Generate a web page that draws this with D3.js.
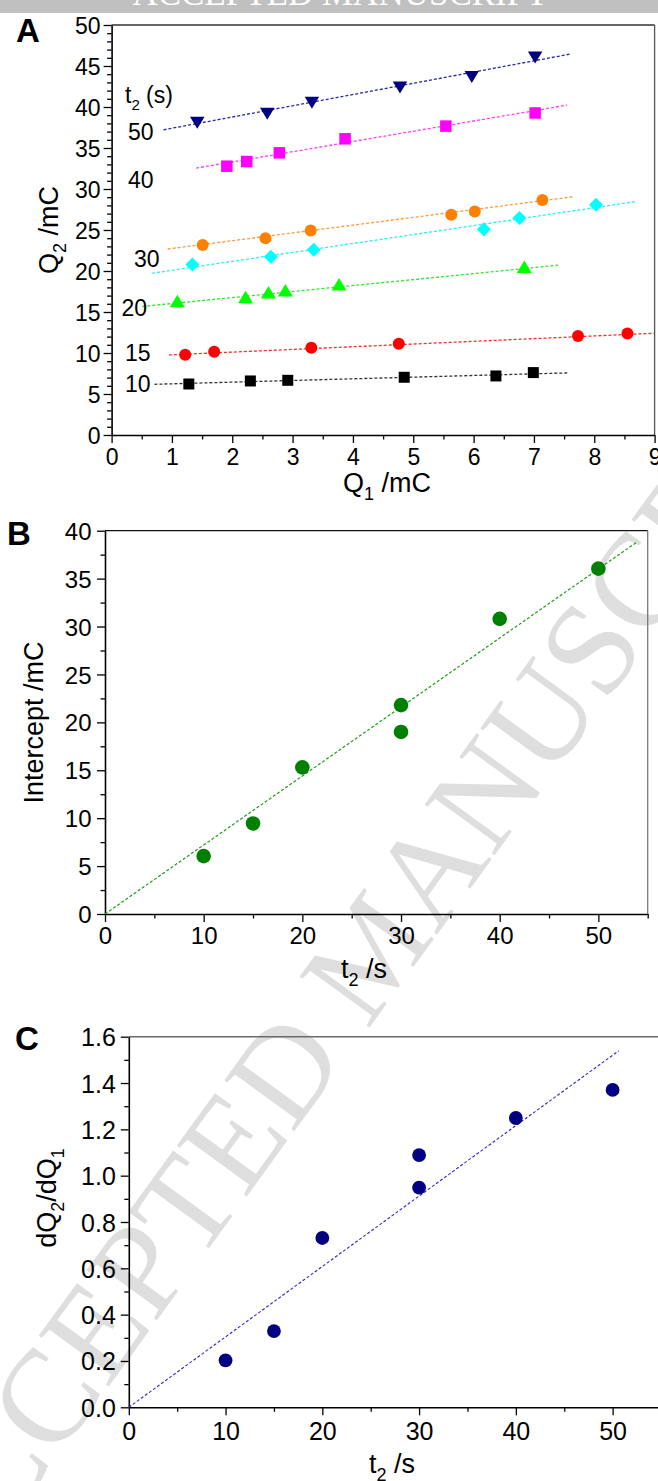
<!DOCTYPE html>
<html>
<head>
<meta charset="utf-8">
<script src="https://cdn.jsdelivr.net/npm/d3@7/dist/d3.min.js"></script>
<style>
html,body{margin:0;padding:0;background:#fff;}
svg{display:block;}
</style>
</head>
<body>
<svg id="chart" width="658" height="1481"></svg>
<script>
// ================= DATA =================
// Panel A: Q2 vs Q1 for each t2 series
const t2Labels = ["10", "15", "20", "30", "30", "40", "50"];
const t2Values = [10, 15, 20, 30, 30, 40, 50];
const q1Values = [
  [1.28, 2.30, 2.92, 4.85, 6.37, 6.99],
  [1.22, 1.70, 3.31, 4.76, 7.73, 8.55],
  [1.09, 2.22, 2.60, 2.88, 3.77, 6.84],
  [1.51, 2.55, 3.30, 5.63, 6.02, 7.14],
  [1.34, 2.64, 3.35, 6.17, 6.76, 8.03],
  [1.91, 2.24, 2.78, 3.87, 5.54, 7.02],
  [1.42, 2.58, 3.32, 4.78, 5.97, 7.02]
];
const q2Values = [
  [6.22, 6.59, 6.67, 7.04, 7.20, 7.61],
  [9.78, 10.14, 10.63, 11.12, 12.06, 12.39],
  [16.35, 16.84, 17.41, 17.65, 18.39, 20.51],
  [23.18, 24.00, 24.94, 26.86, 27.27, 28.65],
  [20.80, 21.73, 22.59, 25.10, 26.45, 28.08],
  [32.78, 33.35, 34.41, 36.12, 37.67, 39.27],
  [38.08, 39.18, 40.53, 42.37, 43.67, 46.04]
];
// Linear fits (intercept /mC, slope dQ2/dQ1) — also plotted in panels B and C
const intercepts = [6.04, 9.45, 15.30, 21.80, 19.00, 30.80, 36.04];
const slopes     = [0.203, 0.329, 0.731, 0.948, 1.089, 1.249, 1.370];
const fitQ1From  = [0.71, 0.95, 0.51, 0.93, 0.67, 1.40, 0.86];
const fitQ1To    = [7.57, 9.00, 7.40, 7.66, 8.69, 7.55, 7.59];
// Panel B / C overall fits
const interceptFit = {slope: 0.72, intercept: 0, from: 0, to: 54};
const slopeFit     = {slope: 0.0304, intercept: 0, from: 0, to: 50.65};
// Annotation texts in panel A
const seriesLabelTexts = ["t2 (s)", "50", "40", "30", "20", "15", "10"];
const seriesLabelQ1    = [0.222, 0.272, 0.272, 0.371, 0.164, 0.222, 0.222];
const seriesLabelQ2    = [40.52, 35.98, 30.16, 20.45, 14.51, 9.02, 5.24];
// Tick values
const ticksAx = [0,1,2,3,4,5,6,7,8,9];
const ticksAy = [0,5,10,15,20,25,30,35,40,45,50];
const ticksBx = [0,10,20,30,40,50];
const ticksBy = [0,5,10,15,20,25,30,35,40];
const ticksCx = [0,10,20,30,40,50];
const ticksCy = [0,0.2,0.4,0.6,0.8,1.0,1.2,1.4,1.6];

// ================= STYLE =================
const markerColors = ["#000000","#ff0000","#00ff00","#ff8000","#00ffff","#ff00ff","#000080"];
const lineColors   = ["#333333","#ff2a2a","#2ee82e","#ff9a3a","#2af0f0","#ff3cff","#2626a6"];
const markerShapes = ["square","circle","triUp","circle","diamond","square","triDown"];
const markerSizes  = [[11,11],[12,12],[15,12.5],[12,12],[14,14],[11.5,11.5],[14.5,12]];
const SANS = "'Liberation Sans', Arial, Helvetica, sans-serif";
const SERIF = "'Liberation Serif', 'Times New Roman', serif";

const svg = d3.select("#chart");

function shapePath(type, w, h) {
  const a = w/2, b = h/2;
  switch (type) {
    case "square": return `M${-a},${-b}H${a}V${b}H${-a}Z`;
    case "circle": return `M${-a},0A${a},${b} 0 1,0 ${a},0A${a},${b} 0 1,0 ${-a},0Z`;
    case "triUp": return `M0,${-b}L${a},${b}L${-a},${b}Z`;
    case "triDown": return `M0,${b}L${a},${-b}L${-a},${-b}Z`;
    case "diamond": return `M0,${-b}L${a},0L0,${b}L${-a},0Z`;
  }
}

// ================= WATERMARK =================
svg.append("text")
  .attr("transform", "translate(372,950) rotate(-54)")
  .attr("text-anchor", "middle")
  .attr("dy", "0.33em")
  .style("font-family", SERIF)
  .style("font-size", "132px")
  .attr("fill", "#dedede")
  .text("ACCEPTED MANUSCRIPT");

// Top banner
svg.append("rect").attr("x",0).attr("y",0).attr("width",658).attr("height",13).attr("fill","#c0c0c0");
svg.append("text").attr("x",340).attr("y",5).attr("text-anchor","middle")
  .style("font-family", SERIF).style("font-size","35px").attr("fill","#fff")
  .text("ACCEPTED MANUSCRIPT");

// ================= AXES HELPER =================
function drawAxes(x, y, o) {
  const y0 = y.range()[0], x0 = x.range()[0];
  const gxm = svg.append("g").attr("transform", `translate(0,${y0})`)
    .call(d3.axisBottom(x).tickValues(o.xMinor).tickSize(4.5).tickSizeOuter(0).tickFormat(""));
  gxm.select(".domain").remove();
  const gym = svg.append("g").attr("transform", `translate(${x0},0)`)
    .call(d3.axisLeft(y).tickValues(o.yMinor).tickSize(4.5).tickSizeOuter(0).tickFormat(""));
  gym.select(".domain").remove();
  const gx = svg.append("g").attr("transform", `translate(0,${y0})`)
    .call(d3.axisBottom(x).tickValues(o.xMajor).tickSize(8).tickSizeOuter(0).tickFormat(o.xFmt));
  const gy = svg.append("g").attr("transform", `translate(${x0},0)`)
    .call(d3.axisLeft(y).tickValues(o.yMajor).tickSize(8).tickSizeOuter(0).tickFormat(o.yFmt));
  [gxm, gym, gx, gy].forEach(g => {
    g.attr("font-family", null).attr("font-size", null);
    g.selectAll(".tick line").attr("stroke", "#000").attr("stroke-width", 1.3);
    g.selectAll(".domain").attr("stroke", "#000").attr("stroke-width", 1.6);
  });
  gx.selectAll(".tick text").attr("y", o.xLabOff).attr("dy", null)
    .style("font-family", SANS).style("font-size", o.tickFont + "px").attr("fill", "#000");
  gy.selectAll(".tick text").attr("x", -o.yLabOff).attr("dy", "0.36em")
    .style("font-family", SANS).style("font-size", o.tickFont + "px").attr("fill", "#000");
}

function frameLine(x1, y1, x2, y2, color, w) {
  svg.append("line").attr("x1",x1).attr("y1",y1).attr("x2",x2).attr("y2",y2)
    .attr("stroke", color).attr("stroke-width", w);
}

function title(tx, ty, rot, parts, size) {
  const t = svg.append("text")
    .attr("transform", `translate(${tx},${ty})` + (rot ? ` rotate(${rot})` : ""))
    .attr("text-anchor", "middle")
    .style("font-family", SANS).style("font-size", size + "px").attr("fill", "#000");
  let down = 0;
  parts.forEach(p => {
    const isSub = p.sub === true;
    const ts = t.append("tspan").text(p.t);
    if (isSub && !down) { ts.attr("dy", 8).style("font-size", Math.round(size*0.66) + "px"); down = 1; }
    else if (!isSub && down) { ts.attr("dy", -8); down = 0; }
    else if (isSub) { ts.style("font-size", Math.round(size*0.66) + "px"); }
  });
  return t;
}

function panelLetter(x, y, s) {
  svg.append("text").attr("x", x).attr("y", y)
    .style("font-family", SANS).style("font-size", "33px").style("font-weight", "bold")
    .attr("fill", "#000").text(s);
}

// ================= PANEL A =================
const xA = d3.scaleLinear().domain([0, 9]).range([111.6, 654.6]);
const yA = d3.scaleLinear().domain([0, 50]).range([435, 25]);
frameLine(111.6, 25, 654.6, 25, "#333", 1.3);
frameLine(654.6, 25, 654.6, 435, "#555", 1.3);

drawAxes(xA, yA, {
  xMajor: ticksAx, xMinor: d3.range(0.5, 9, 1),
  yMajor: ticksAy, yMinor: d3.range(0, 51, 1).filter(v => v % 5 !== 0),
  xFmt: d3.format("d"), yFmt: d3.format("d"),
  xLabOff: 30, yLabOff: 11, tickFont: 23
});

const lineA = d3.line().x(d => xA(d[0])).y(d => yA(d[1]));
t2Values.forEach((t, i) => {
  const pts = [fitQ1From[i], fitQ1To[i]].map(q => [q, intercepts[i] + slopes[i] * q]);
  svg.append("path").attr("d", lineA(pts)).attr("fill", "none")
    .attr("stroke", lineColors[i]).attr("stroke-width", 1.3).attr("stroke-dasharray", "3,2");
});
t2Values.forEach((t, i) => {
  const [w, h] = markerSizes[i];
  svg.append("g").selectAll("path").data(q1Values[i].map((q, j) => [q, q2Values[i][j]]))
    .join("path")
    .attr("transform", d => `translate(${xA(d[0])},${yA(d[1])})`)
    .attr("d", shapePath(markerShapes[i], w, h))
    .attr("fill", markerColors[i]);
});

seriesLabelTexts.forEach((s, i) => {
  const t = svg.append("text").attr("x", xA(seriesLabelQ1[i])).attr("y", yA(seriesLabelQ2[i]))
    .style("font-family", SANS).style("font-size", "23px").attr("fill", "#000");
  if (s.startsWith("t2")) {
    t.append("tspan").text("t");
    t.append("tspan").attr("dy", 7).style("font-size", "15px").text("2");
    t.append("tspan").attr("dy", -7).text(" (s)");
  } else t.text(s);
});

title(387, 492, 0, [{t:"Q"},{t:"1",sub:true},{t:" /mC"}], 27);
title(58, 230, -90, [{t:"Q"},{t:"2",sub:true},{t:" /mC"}], 27);
panelLetter(16, 42, "A");

// ================= PANEL B =================
const xB = d3.scaleLinear().domain([0, 55]).range([105, 647.7]);
const yB = d3.scaleLinear().domain([0, 40]).range([914, 530.7]);
frameLine(105, 530.7, 647.7, 530.7, "#111", 1.3);
frameLine(647.7, 530.7, 647.7, 914, "#777", 1.3);
drawAxes(xB, yB, {
  xMajor: ticksBx, xMinor: d3.range(5, 56, 10),
  yMajor: ticksBy, yMinor: d3.range(2.5, 40, 5),
  xFmt: d3.format("d"), yFmt: d3.format("d"),
  xLabOff: 30, yLabOff: 13.5, tickFont: 24
});
const lineB = d3.line().x(d => xB(d[0])).y(d => yB(d[1]));
svg.append("path")
  .attr("d", lineB([interceptFit.from, interceptFit.to].map(v => [v, interceptFit.intercept + interceptFit.slope * v])))
  .attr("fill", "none").attr("stroke", "#1f9a1f").attr("stroke-width", 1.2).attr("stroke-dasharray", "3,2");
svg.append("g").selectAll("circle").data(t2Values.map((t, i) => [t, intercepts[i]]))
  .join("circle").attr("cx", d => xB(d[0])).attr("cy", d => yB(d[1])).attr("r", 7.3)
  .attr("fill", "#008000");
title(364, 978, 0, [{t:"t"},{t:"2",sub:true},{t:" /s"}], 27);
title(43, 722.5, -90, [{t:"Intercept /mC"}], 27);
panelLetter(7, 545, "B");

// ================= PANEL C =================
const xC = d3.scaleLinear().domain([0, 55]).range([128.8, 661]);
const yC = d3.scaleLinear().domain([0, 1.6]).range([1407.3, 1036.7]);
frameLine(128.8, 1036.7, 660, 1036.7, "#6a6a6a", 1.6);
drawAxes(xC, yC, {
  xMajor: ticksCx, xMinor: d3.range(5, 56, 10),
  yMajor: ticksCy, yMinor: d3.range(0.1, 1.6, 0.2),
  xFmt: d3.format("d"), yFmt: d3.format(".1f"),
  xLabOff: 33, yLabOff: 13, tickFont: 25
});
const lineC = d3.line().x(d => xC(d[0])).y(d => yC(d[1]));
svg.append("path")
  .attr("d", lineC([slopeFit.from, slopeFit.to].map(v => [v, slopeFit.intercept + slopeFit.slope * v])))
  .attr("fill", "none").attr("stroke", "#2a2ac0").attr("stroke-width", 1.1).attr("stroke-dasharray", "3,2");
svg.append("g").selectAll("circle").data(t2Values.map((t, i) => [t, slopes[i]]))
  .join("circle").attr("cx", d => xC(d[0])).attr("cy", d => yC(d[1])).attr("r", 6.9)
  .attr("fill", "#000080");
title(392, 1473, 0, [{t:"t"},{t:"2",sub:true},{t:" /s"}], 27);
title(56, 1198, -90, [{t:"dQ"},{t:"2",sub:true},{t:"/dQ"},{t:"1",sub:true}], 27);
panelLetter(15, 1050, "C");
</script>
</body>
</html>
